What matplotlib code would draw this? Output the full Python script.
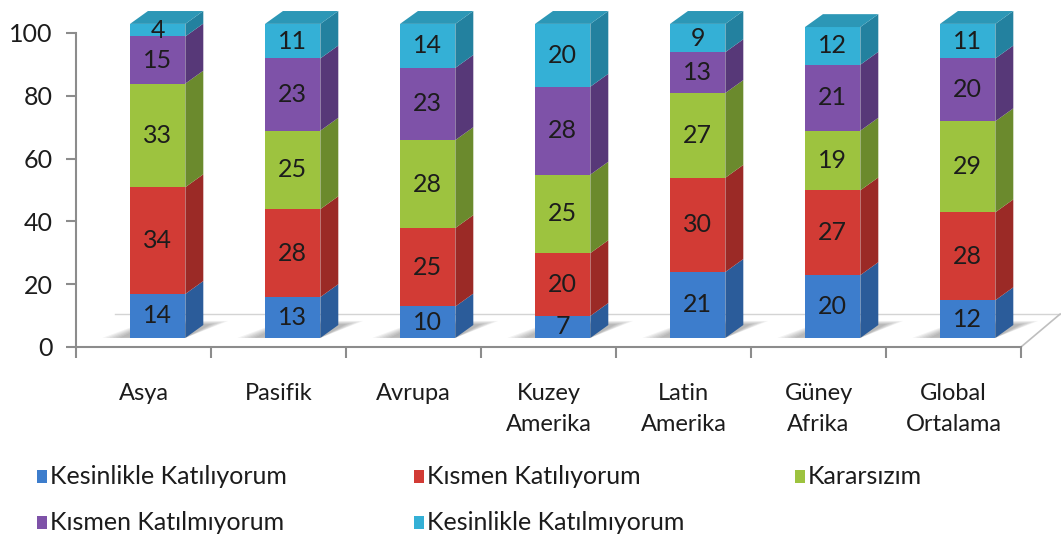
import matplotlib
matplotlib.use("Agg")
import matplotlib.pyplot as plt
from matplotlib.patches import Polygon, Rectangle

regions = ["Asya", "Pasifik", "Avrupa", "Kuzey\nAmerika", "Latin\nAmerika",
           "Güney\nAfrika", "Global\nOrtalama"]
series = ["Kesinlikle Katılıyorum", "Kısmen Katılıyorum", "Kararsızım",
          "Kısmen Katılmıyorum", "Kesinlikle Katılmıyorum"]
kesinlikle_katiliyorum = [14, 13, 10, 7, 21, 20, 12]
kismen_katiliyorum = [34, 28, 25, 20, 30, 27, 28]
kararsizim = [33, 25, 28, 25, 27, 19, 29]
kismen_katilmiyorum = [15, 23, 23, 28, 13, 21, 20]
kesinlikle_katilmiyorum = [4, 11, 14, 20, 9, 12, 11]
values = [kesinlikle_katiliyorum, kismen_katiliyorum, kararsizim,
          kismen_katilmiyorum, kesinlikle_katilmiyorum]

front_colors = ["#3d7dcc", "#d23b35", "#9dc33f", "#7e52a8", "#34b0d6"]
side_colors = ["#2b5c9a", "#9b2a26", "#6b8a2d", "#573878", "#23819f"]
top_color = "#2c97b6"

plt.rcParams["font.family"] = ["Lato", "DejaVu Sans"]

fig = plt.figure(figsize=(10.61, 5.40), dpi=100)
ax = fig.add_axes([76 / 1061, 193 / 540, 945 / 1061, 314 / 540])
ax.set_xlim(-0.5, len(regions) - 0.5)
ax.set_ylim(0, 100)

# pseudo-3d geometry (category units / value units)
dx, dy = 0.133, 4.1
lead = -0.1       # front face left edge relative to category centre
width = 0.41
y0 = 2.9          # front face baseline sits a little above the axis line

# floor of the plot
n = len(regions)
ax.plot([-0.5 + 0.29, n - 0.5 + 0.29], [10.5, 10.5], color="#d4d4d4", lw=1,
        clip_on=False, zorder=0)
ax.plot([n - 0.5, n - 0.5 + 0.29], [0, 10.5], color="#bfbfbf", lw=1.2,
        clip_on=False, zorder=0)

for i in range(n):
    l = i + lead
    r = l + width
    # soft shadow under the bar
    for k in range(6):
        e = 0.025 * k
        ax.add_patch(Polygon([(l - 0.08 - e, y0), (r, y0),
                              (r + dx + 0.06 + e, y0 + dy + 0.3 + e * 8),
                              (l + dx, y0 + dy + 0.3 + e * 8)],
                             closed=True, facecolor="#000000", alpha=0.05,
                             edgecolor="none", clip_on=False, zorder=1))
    bottom = y0
    for s in range(len(series)):
        v = values[s][i]
        top = bottom + v
        ax.add_patch(Rectangle((l, bottom), width, v, facecolor=front_colors[s],
                               edgecolor="none", clip_on=False, zorder=3))
        ax.add_patch(Polygon([(r, bottom), (r + dx, bottom + dy),
                              (r + dx, top + dy), (r, top)], closed=True,
                             facecolor=side_colors[s], edgecolor="none",
                             clip_on=False, zorder=3))
        ax.text(l + width / 2, bottom + v / 2, str(v), ha="center", va="center",
                fontsize=18, color="#1c1c1c", zorder=4)
        bottom = top
    ax.add_patch(Polygon([(l, bottom), (r, bottom), (r + dx, bottom + dy),
                          (l + dx, bottom + dy)], closed=True,
                         facecolor=top_color, edgecolor="none",
                         clip_on=False, zorder=3))

for side in ["top", "right"]:
    ax.spines[side].set_visible(False)
for side in ["left", "bottom"]:
    ax.spines[side].set_color("#8c8c8c")
    ax.spines[side].set_linewidth(1.5)

ax.set_yticks(range(0, 101, 20))
ax.tick_params(axis="y", length=7, width=1.5, color="#8c8c8c", labelsize=18,
               pad=10, labelcolor="#1c1c1c")
ax.set_xticks([i - 0.5 for i in range(n + 1)])
ax.set_xticklabels([])
ax.tick_params(axis="x", length=8, width=1.5, color="#8c8c8c")
ax.set_xticks(range(n), minor=True)
ax.set_xticklabels(regions, minor=True, fontsize=17, color="#1c1c1c",
                   linespacing=1.6, va="top")
ax.tick_params(axis="x", which="minor", length=0, pad=26)
ax.set_facecolor("none")

# legend laid out in two rows
legend_x = [37, 414, 795, 37, 414]
legend_y = [477, 477, 477, 523, 523]
for s in range(len(series)):
    fig.add_artist(Rectangle(((legend_x[s]) / 1061, (540 - legend_y[s] - 6) / 540),
                             10 / 1061, 13 / 540, transform=fig.transFigure,
                             facecolor=front_colors[s], edgecolor="none"))
    fig.text((legend_x[s] + 13) / 1061, (540 - legend_y[s]) / 540, series[s],
             fontsize=18, color="#1c1c1c", va="center", ha="left")

fig.savefig("out.png", dpi=100)
